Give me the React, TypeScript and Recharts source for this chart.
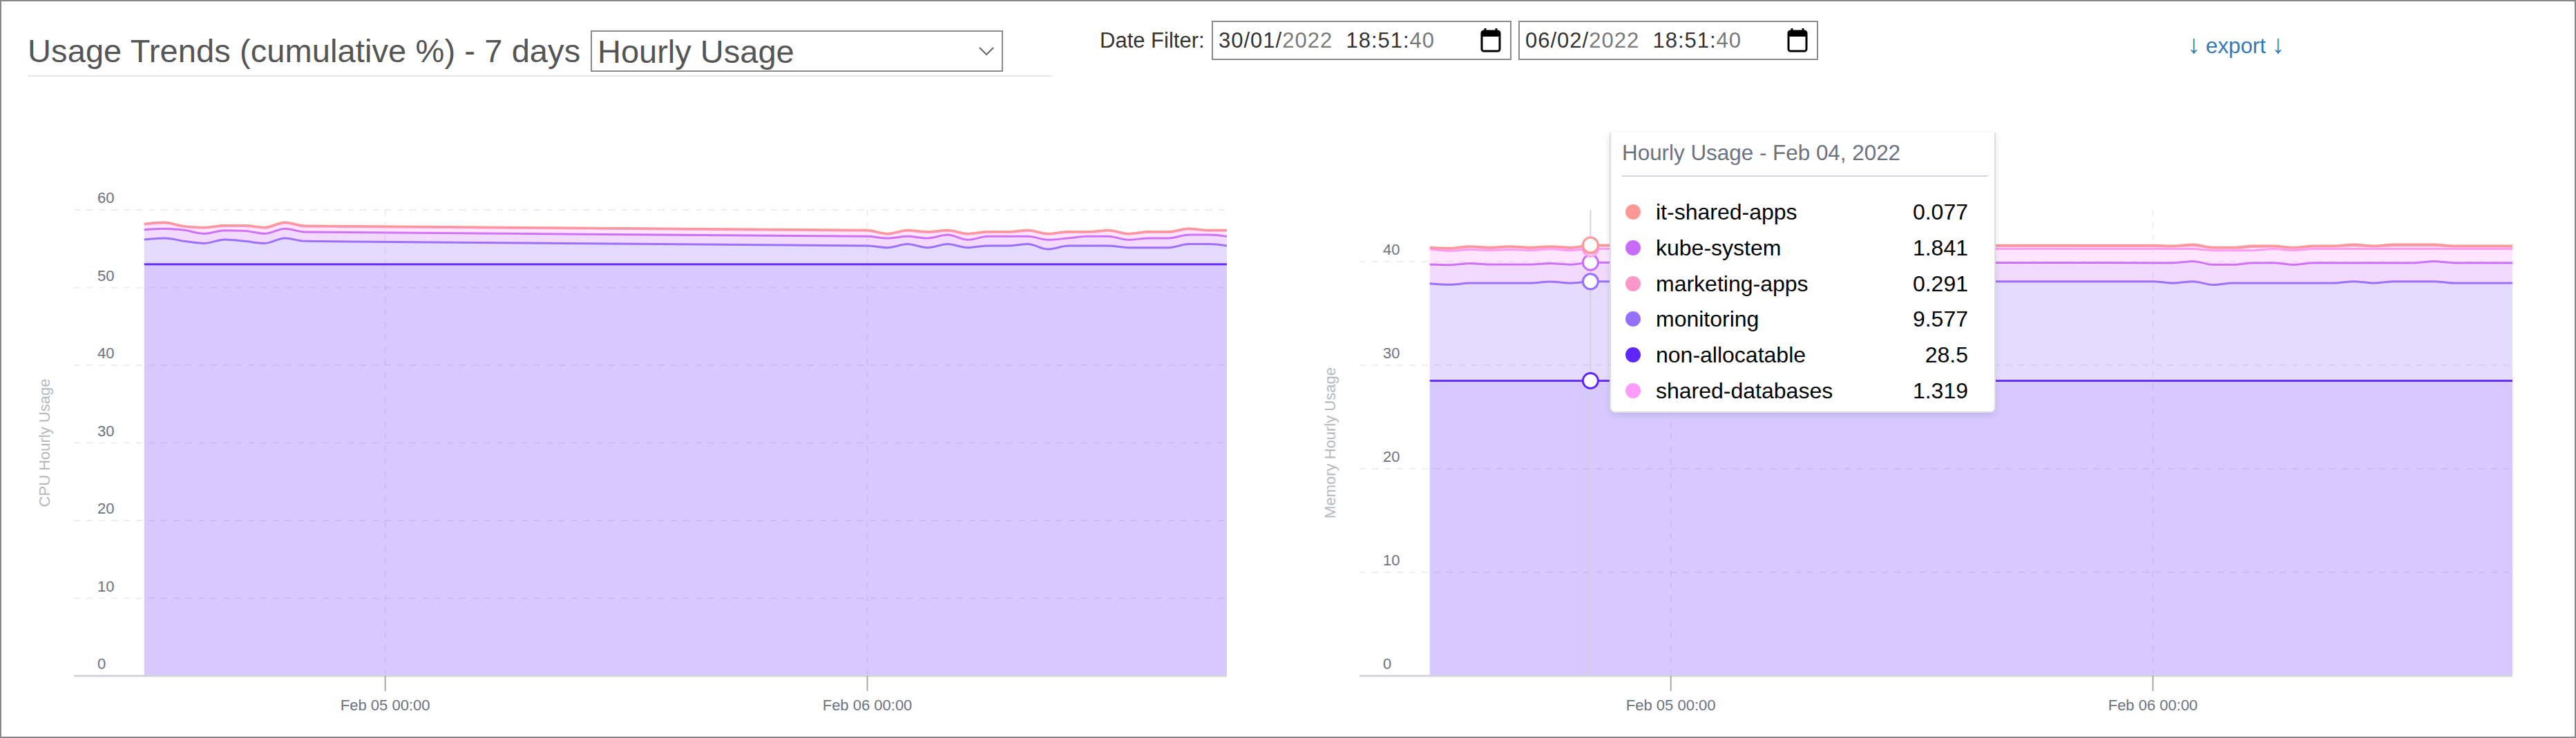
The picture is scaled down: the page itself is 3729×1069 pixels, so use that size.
import React from 'react';
import { AreaChart, Area, XAxis, YAxis, CartesianGrid, Tooltip } from 'recharts';

// hours counted from Feb 04 00:00, samples between are missing in the source
const hours = [12, 13, 14, 15, 16, 17, 18, 19, 20, 48, 49, 50, 51, 52, 53, 54, 55, 56, 57, 58, 59, 60, 61, 62, 63, 64, 65, 65.9];
const xTicks = [24, 48];
const xTickLabels: Record<number, string> = { 24: 'Feb 05 00:00', 48: 'Feb 06 00:00' };
const cpuTicks = [0, 10, 20, 30, 40, 50, 60];
const memTicks = [0, 10, 20, 30, 40];

// CPU, stacked bottom to top
const cpuNonAllocatable = [53, 53, 53, 53, 53, 53, 53, 53, 53, 53, 53, 53, 53, 53, 53, 53, 53, 53, 53, 53, 53, 53, 53, 53, 53, 53, 53, 53];
const cpuMonitoring = [3.18, 3.36, 2.97, 2.7, 3.18, 2.97, 2.7, 3.36, 2.97, 2.38, 2.14, 2.59, 2.14, 2.59, 2.14, 2.38, 2.38, 2.59, 1.93, 2.38, 2.38, 2.38, 2.14, 2.14, 2.14, 2.59, 2.59, 2.38];
const cpuKube = [1.27, 1.21, 1.42, 1.25, 1.18, 1.33, 1.25, 1.21, 1.19, 1.21, 1.22, 1.0, 1.22, 1.21, 1.01, 1.21, 1.21, 1.0, 1.22, 0.98, 1.21, 1.21, 1.01, 1.22, 1.22, 1.21, 1.21, 1.21];
const cpuShared = [0.67, 0.75, 0.43, 0.72, 0.56, 0.62, 0.72, 0.75, 0.71, 0.72, 0.51, 0.72, 0.75, 0.51, 0.72, 0.52, 0.52, 0.72, 0.72, 0.75, 0.52, 0.72, 0.72, 0.75, 0.75, 0.72, 0.51, 0.72];
const cpuMarketing = [0.05, 0.05, 0.05, 0.05, 0.05, 0.05, 0.05, 0.05, 0.05, 0.05, 0.05, 0.05, 0.05, 0.05, 0.05, 0.05, 0.05, 0.05, 0.05, 0.05, 0.05, 0.05, 0.05, 0.05, 0.05, 0.05, 0.05, 0.05];
const cpuItShared = [0.03, 0.03, 0.03, 0.03, 0.03, 0.03, 0.03, 0.03, 0.03, 0.03, 0.03, 0.03, 0.03, 0.03, 0.03, 0.03, 0.03, 0.03, 0.03, 0.03, 0.03, 0.03, 0.03, 0.03, 0.03, 0.03, 0.03, 0.03];

// Memory, stacked bottom to top
const memNonAllocatable = [28.5, 28.5, 28.5, 28.5, 28.5, 28.5, 28.5, 28.5, 28.5, 28.5, 28.5, 28.5, 28.5, 28.5, 28.5, 28.5, 28.5, 28.5, 28.5, 28.5, 28.5, 28.5, 28.5, 28.5, 28.5, 28.5, 28.5, 28.5];
const memMonitoring = [9.39, 9.28, 9.43, 9.43, 9.43, 9.43, 9.57, 9.43, 9.577, 9.59, 9.43, 9.59, 9.26, 9.43, 9.43, 9.43, 9.43, 9.43, 9.43, 9.59, 9.43, 9.59, 9.59, 9.59, 9.43, 9.43, 9.43, 9.43];
const memKube = [1.84, 1.91, 1.91, 1.8, 1.8, 1.8, 1.77, 1.8, 1.841, 1.8, 1.96, 1.95, 1.95, 1.78, 1.96, 1.96, 1.78, 1.96, 1.96, 1.8, 1.96, 1.8, 1.8, 1.95, 1.96, 1.96, 1.96, 1.96];
const memShared = [1.47, 1.35, 1.32, 1.36, 1.43, 1.36, 1.38, 1.36, 1.319, 1.35, 1.35, 1.2, 1.38, 1.38, 1.2, 1.35, 1.38, 1.35, 1.35, 1.35, 1.35, 1.35, 1.35, 1.2, 1.35, 1.35, 1.35, 1.35];
const memMarketing = [0.13, 0.2, 0.25, 0.21, 0.25, 0.21, 0.2, 0.21, 0.291, 0.26, 0.22, 0.33, 0.22, 0.22, 0.34, 0.22, 0.22, 0.22, 0.22, 0.33, 0.22, 0.33, 0.33, 0.33, 0.22, 0.22, 0.22, 0.22];
const memItShared = [0.05, 0.07, 0.08, 0.08, 0.08, 0.08, 0.07, 0.08, 0.077, 0.08, 0.07, 0.1, 0.07, 0.07, 0.1, 0.07, 0.07, 0.07, 0.07, 0.1, 0.07, 0.1, 0.1, 0.1, 0.07, 0.07, 0.07, 0.07];

const stackOrder = [
  { key: 'non-allocatable', color: '#5f27ff' },
  { key: 'monitoring', color: '#9670ff' },
  { key: 'kube-system', color: '#c86bfa' },
  { key: 'shared-databases', color: '#ff9cfa' },
  { key: 'marketing-apps', color: '#fb98c9' },
  { key: 'it-shared-apps', color: '#ff9797' },
];
const tooltipOrder = ['it-shared-apps', 'kube-system', 'marketing-apps', 'monitoring', 'non-allocatable', 'shared-databases'];

const buildRows = (series: number[][]) =>
  hours.map((hour, i) => {
    const row: Record<string, number> = { hour };
    stackOrder.forEach((s, j) => {
      row[s.key] = series[j][i];
    });
    return row;
  });

const cpuData = buildRows([cpuNonAllocatable, cpuMonitoring, cpuKube, cpuShared, cpuMarketing, cpuItShared]);
const memData = buildRows([memNonAllocatable, memMonitoring, memKube, memShared, memMarketing, memItShared]);

const FONT = '"Liberation Sans", Arial, sans-serif';

const YTick = ({ x, y, payload }: any) => (
  <text x={141} y={y - 10} fontSize={22} fill="#6b7280" fontFamily={FONT}>
    {payload.value}
  </text>
);

const HourlyTooltip = ({ payload }: any) => {
  if (!payload || !payload.length) return null;
  return (
    <div
      style={{
        width: 559,
        height: 406,
        boxSizing: 'border-box',
        background: '#fff',
        borderLeft: '2px solid #dcdce6',
        borderRight: '2px solid #dcdce6',
        borderBottom: '2px solid #dcdce6',
        borderRadius: '0 0 8px 8px',
        boxShadow: '0 3px 8px rgba(90,90,120,0.18)',
        position: 'relative',
        fontFamily: FONT,
      }}
    >
      <div style={{ position: 'absolute', left: 16, top: 12, fontSize: 31.4, lineHeight: '36px', color: '#6b7280', whiteSpace: 'nowrap' }}>
        Hourly Usage - Feb 04, 2022
      </div>
      <div style={{ position: 'absolute', left: 16, right: 10, top: 62, height: 2, background: '#d1d5db' }} />
      {tooltipOrder.map((name, i) => {
        const item = payload.find((p: any) => p.dataKey === name);
        const color = stackOrder.find((s) => s.key === name)!.color;
        const top = 115 + i * 51.8;
        return (
          <React.Fragment key={name}>
            <span style={{ position: 'absolute', left: 21, top: top - 11, width: 22, height: 22, borderRadius: '50%', background: color }} />
            <span style={{ position: 'absolute', left: 65, top: top - 20, fontSize: 32, lineHeight: '40px', color: '#000', whiteSpace: 'nowrap' }}>{name}</span>
            <span style={{ position: 'absolute', right: 38, top: top - 20, fontSize: 32, lineHeight: '40px', color: '#000' }}>{item ? item.value : ''}</span>
          </React.Fragment>
        );
      })}
    </div>
  );
};

const UsageChart = ({ data, left, yMax, yTicks, yTitle, showTooltip }: any) => (
  <div style={{ position: 'absolute', left, top: 100 }}>
    <AreaChart width={1800} height={960} data={data} margin={{ top: 204, right: 24, bottom: 0, left: 0 }}>
      <XAxis
        dataKey="hour"
        type="number"
        domain={[8.5, 65.9]}
        ticks={xTicks}
        tickFormatter={(v: number) => xTickLabels[v]}
        height={81}
        tick={{ fontSize: 22, fill: '#6b7280', fontFamily: FONT }}
        tickLine={{ stroke: '#aaaaaa', strokeWidth: 2 }}
        tickSize={22}
        tickMargin={12}
        axisLine={{ stroke: '#d1d5db', strokeWidth: 3 }}
      />
      <YAxis
        width={107}
        domain={[0, yMax]}
        ticks={yTicks}
        axisLine={false}
        tickLine={false}
        tick={<YTick />}
        label={{ value: yTitle, angle: -90, position: 'insideLeft', offset: 64, style: { textAnchor: 'middle', fontSize: 22, fill: '#b4b8be', fontFamily: FONT } }}
      />
      {showTooltip && (
        <Tooltip
          active
          defaultIndex={8}
          content={<HourlyTooltip />}
          position={{ x: 469, y: 92 }}
          cursor={{ stroke: '#d1d5db', strokeWidth: 2 }}
          isAnimationActive={false}
          allowEscapeViewBox={{ x: true, y: true }}
          wrapperStyle={{ outline: 'none' }}
        />
      )}
      {stackOrder.map((s) => (
        <Area
          key={s.key}
          dataKey={s.key}
          stackId="usage"
          type="monotone"
          stroke={s.color}
          strokeWidth={3}
          fill={s.color}
          fillOpacity={0.25}
          isAnimationActive={false}
          dot={false}
          activeDot={{ r: 11, fill: '#fff', stroke: s.color, strokeWidth: 3 }}
        />
      ))}
      <CartesianGrid stroke="rgba(120,110,160,0.12)" strokeWidth={2} strokeDasharray="9 9" syncWithTicks horizontalValues={yTicks} verticalValues={xTicks} />
    </AreaChart>
  </div>
);

const CalendarIcon = ({ x }: { x: number }) => (
  <svg style={{ position: 'absolute', left: x, top: 40 }} width={30} height={36} viewBox="0 0 30 36">
    <path d="M7 1v5M23 1v5" stroke="#000" strokeWidth={3} />
    <rect x={2} y={5} width={26} height={29} rx={3} fill="#fff" stroke="#000" strokeWidth={3} />
    <rect x={2} y={5} width={26} height={8} fill="#000" />
  </svg>
);

const DateBox = ({ x, date, year, time, sec }: any) => (
  <>
    <div
      style={{
        position: 'absolute',
        left: x,
        top: 30,
        width: 434,
        height: 57,
        boxSizing: 'border-box',
        border: '2px solid #8a8a8a',
        background: '#fff',
        fontSize: 31,
        letterSpacing: 1,
        lineHeight: '53px',
        paddingLeft: 8,
        color: '#333',
        whiteSpace: 'pre',
      }}
    >
      {date}
      <span style={{ color: '#7a7a7a' }}>{year}</span>
      {'  ' + time}
      <span style={{ color: '#7a7a7a' }}>{sec}</span>
    </div>
    <CalendarIcon x={x + 389} />
  </>
);

export default function App() {
  return (
    <div
      style={{
        position: 'absolute',
        left: 0,
        top: 0,
        width: 3729,
        height: 1069,
        boxSizing: 'border-box',
        border: '2px solid #888',
        background: '#fff',
        fontFamily: FONT,
        overflow: 'hidden',
      }}
    >
      <div style={{ position: 'absolute', inset: -2 }}>
        <div style={{ position: 'absolute', left: 40, top: 47, fontSize: 47, letterSpacing: 0.1, lineHeight: '54px', color: '#555', whiteSpace: 'nowrap' }}>
          Usage Trends (cumulative %) - 7 days
        </div>
        <div style={{ position: 'absolute', left: 40, top: 109, width: 1483, height: 2, background: '#e6e6e6' }} />
        <select
          defaultValue="hourly"
          style={{ position: 'absolute', left: 855, top: 44, width: 597, height: 60, fontSize: 47, fontFamily: FONT, color: '#555', background: '#fff', border: '2px solid #8a8a8a', borderRadius: 0, padding: '0 0 0 8px', appearance: 'none', WebkitAppearance: 'none' }}
        >
          <option value="hourly">Hourly Usage</option>
        </select>
        <svg style={{ position: 'absolute', left: 1417, top: 68 }} width={22} height={13} viewBox="0 0 22 13">
          <path d="M1 1l10 10L21 1" fill="none" stroke="#666" strokeWidth={2} />
        </svg>
        <div style={{ position: 'absolute', left: 1592, top: 41, fontSize: 31, lineHeight: '36px', color: '#333', whiteSpace: 'nowrap' }}>Date Filter:</div>
        <DateBox x={1754} date="30/01/" year="2022" time="18:51:" sec="40" />
        <DateBox x={2198} date="06/02/" year="2022" time="18:51:" sec="40" />
        <div style={{ position: 'absolute', left: 3166, top: 46, fontSize: 31.3, lineHeight: '36px', color: '#337ab7', whiteSpace: 'nowrap' }}>
          <span style={{ fontSize: 38, marginRight: 8 }}>↓</span>export<span style={{ fontSize: 38, marginLeft: 8 }}>↓</span>
        </div>

        <UsageChart data={cpuData} left={0} yMax={60} yTicks={cpuTicks} yTitle="CPU Hourly Usage" />
        <UsageChart data={memData} left={1861} yMax={45} yTicks={memTicks} yTitle="Memory Hourly Usage" showTooltip />
      </div>
    </div>
  );
}
